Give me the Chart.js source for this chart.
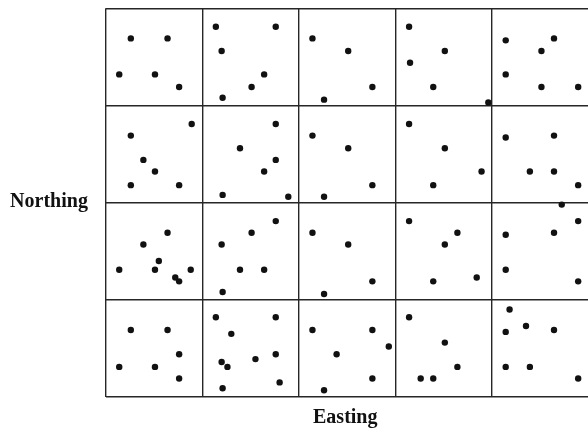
<!DOCTYPE html>
<html>
<head>
<meta charset="utf-8">
<script src="https://cdn.jsdelivr.net/npm/chart.js@4.4.1/dist/chart.umd.min.js"></script>
<style>
    html, body { margin: 0; padding: 0; background: #fff; overflow: hidden; }
</style>
</head>
<body>
<canvas id="graphique" width="592" height="429"></canvas>
<script>
// ==========================================================
// DONNEES (une cellule = 100 unités)
// ==========================================================
const eastings = [
    // rangée du haut
    26, 64, 14, 51, 76,
    114, 176, 120, 164, 151, 121,
    214, 251, 276, 226,
    314, 351, 315, 339, 396,
    414, 464, 451, 414, 451, 489,
    // deuxième rangée
    89, 26, 39, 51, 26, 76,
    176, 139, 176, 164, 121, 189,
    214, 251, 276, 226,
    314, 351, 389, 339,
    414, 464, 439, 464, 489,
    // troisième rangée
    472,
    64, 39, 55, 14, 51, 72, 76, 88,
    176, 151, 120, 139, 164, 121,
    214, 251, 226, 276,
    314, 364, 351, 339, 384,
    489, 464, 414, 414, 489,
    // rangée du bas
    26, 64, 76, 14, 51, 76,
    114, 176, 130, 176, 155, 120, 126, 180, 121,
    214, 239, 226, 276, 293, 276,
    314, 351, 364, 326, 339,
    418, 435, 414, 464, 414, 439, 489
];

const northings = [
    369, 369, 332, 332, 319,
    381, 381, 356, 332, 319, 308,
    369, 356, 319, 306,
    381, 356, 344, 319, 303,
    367, 369, 356, 332, 319, 319,

    281, 269, 244, 232, 218, 218,
    281, 256, 244, 232, 208, 206,
    269, 256, 218, 206,
    281, 256, 232, 218,
    267, 269, 232, 232, 218,

    198,
    169, 157, 140, 131, 131, 123, 119, 131,
    181, 169, 157, 131, 131, 108,
    169, 157, 106, 119,
    181, 169, 157, 119, 123,
    181, 169, 167, 131, 119,

    69, 69, 44, 31, 31, 19,
    82, 82, 65, 44, 39, 36, 31, 15, 9,
    69, 44, 7, 69, 52, 19,
    82, 56, 31, 19, 19,
    90, 73, 67, 69, 31, 31, 19
];

const ticksEasting = [0, 100, 200, 300, 400, 500];
const ticksNorthing = [0, 100, 200, 300, 400];
const titreX = 'Easting';
const titreY = 'Northing';

// ==========================================================
// CONSTRUCTION DU GRAPHIQUE
// ==========================================================
const points = eastings.map((e, i) => ({ x: e, y: northings[i] }));

const couleurGrille = '#262626';
const policeTitre = 'bold 20px "Liberation Serif", "Times New Roman", serif';

// Titres d'axes dessinés à l'horizontale (comme sur la figure)
const titresAxes = {
    id: 'titresAxes',
    afterDraw(chart) {
        const ctx = chart.ctx;
        const zone = chart.chartArea;
        ctx.save();
        ctx.font = policeTitre;
        ctx.fillStyle = '#111';
        ctx.textAlign = 'center';
        ctx.textBaseline = 'alphabetic';
        ctx.fillText(titreY, 49, 207);
        ctx.fillText(titreX, (zone.left + zone.right) / 2 - 2, 423);
        ctx.restore();
    }
};

const ctx = document.getElementById('graphique').getContext('2d');
new Chart(ctx, {
    type: 'scatter',
    data: {
        datasets: [{
            data: points,
            backgroundColor: '#111',
            borderWidth: 0,
            pointRadius: 3.2,
            pointHoverRadius: 3.2
        }]
    },
    options: {
        responsive: false,
        animation: false,
        layout: { padding: { left: 105.7, top: 8.3, right: 0.4, bottom: 32 } },
        plugins: { legend: { display: false }, tooltip: { enabled: false } },
        scales: {
            x: {
                type: 'linear',
                min: 0,
                max: 500,
                afterBuildTicks: (axe) => { axe.ticks = ticksEasting.map(v => ({ value: v })); },
                afterFit: (axe) => { axe.height = 0; },
                ticks: { display: false },
                grid: { color: couleurGrille, lineWidth: 1.4, drawTicks: false },
                border: { display: false }
            },
            y: {
                type: 'linear',
                min: 0,
                max: 400,
                afterBuildTicks: (axe) => { axe.ticks = ticksNorthing.map(v => ({ value: v })); },
                afterFit: (axe) => { axe.width = 0; },
                ticks: { display: false },
                grid: { color: couleurGrille, lineWidth: 1.4, drawTicks: false },
                border: { display: false }
            }
        }
    },
    plugins: [titresAxes]
});
</script>
</body>
</html>
